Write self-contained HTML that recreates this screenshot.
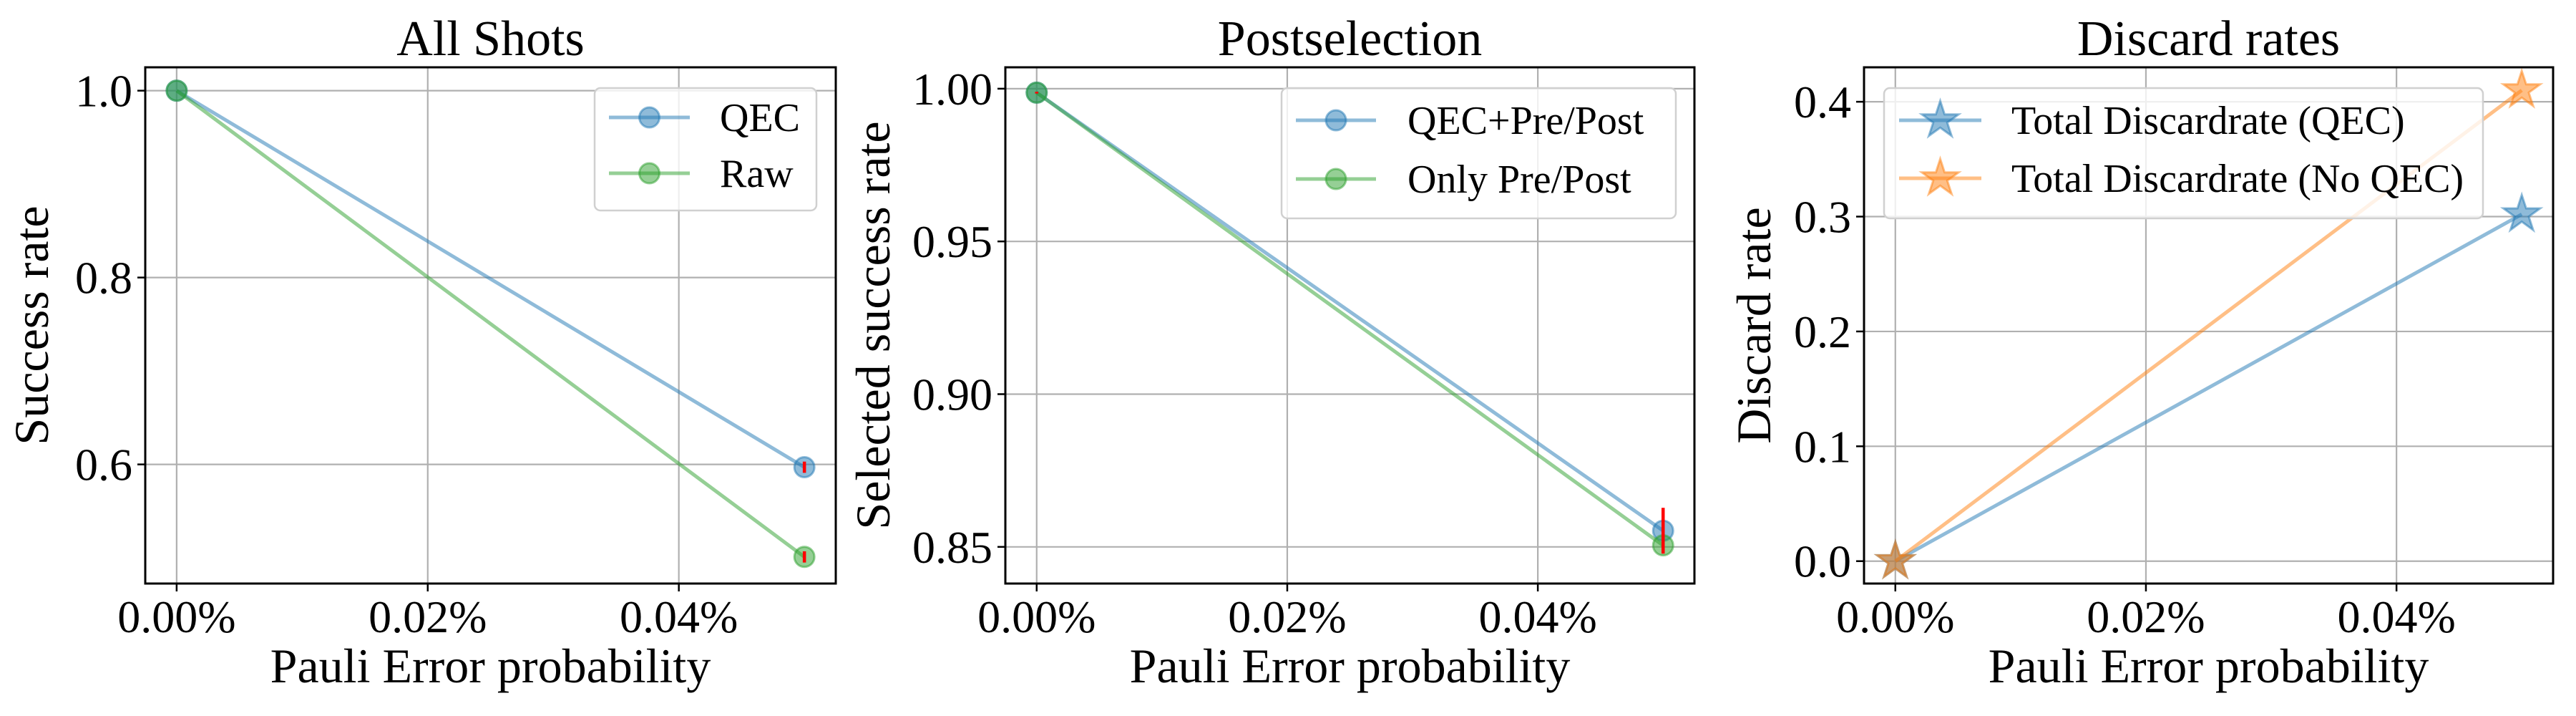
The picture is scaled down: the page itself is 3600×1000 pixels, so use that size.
<!DOCTYPE html>
<html><head><meta charset="utf-8"><style>
html,body{margin:0;padding:0;background:#fff;}
svg{display:block;font-family:"Liberation Serif","DejaVu Serif",serif;}
</style></head><body>
<svg id="fig" width="3600" height="1000" viewBox="0 0 3600 1000" xmlns="http://www.w3.org/2000/svg"></svg>
<script>
// ---- data ----
const xValues = [0, 0.05]; // Pauli error probability in %
const xTicks = [0, 0.02, 0.04];
const xTickLabels = ["0.00%", "0.02%", "0.04%"];

const p1Qec = [1.0, 0.597];
const p1Raw = [1.0, 0.501];
const p1QecErr = [0, 0.006];
const p1RawErr = [0, 0.006];
const p1Ticks = [0.6, 0.8, 1.0];
const p1TickLabels = ["0.6", "0.8", "1.0"];

const p2Qec = [0.9987, 0.8553];
const p2Only = [0.9987, 0.8505];
const p2QecErr = [0.0003, 0.0075];
const p2OnlyErr = [0, 0];
const p2Ticks = [0.85, 0.90, 0.95, 1.00];
const p2TickLabels = ["0.85", "0.90", "0.95", "1.00"];

const p3Qec = [0.0, 0.302];
const p3NoQec = [0.0, 0.410];
const p3Ticks = [0.0, 0.1, 0.2, 0.3, 0.4];
const p3TickLabels = ["0.0", "0.1", "0.2", "0.3", "0.4"];

const NS = "http://www.w3.org/2000/svg";
const svg = document.getElementById("fig");
function mk(tag, attrs, parent) {
  const e = document.createElementNS(NS, tag);
  for (const k in attrs) e.setAttribute(k, attrs[k]);
  (parent || svg).appendChild(e);
  return e;
}
const BLUE = "#1f77b4", GREEN = "#2ca02c", ORANGE = "#ff7f0e";
const MR = 14;

function starPts(cx, cy, R) {
  const r = R * 0.382; let p = [];
  for (let i = 0; i < 10; i++) {
    const a = -Math.PI / 2 + i * Math.PI / 5;
    const rr = i % 2 ? r : R;
    p.push((cx + rr * Math.cos(a)).toFixed(1) + "," + (cy + rr * Math.sin(a)).toFixed(1));
  }
  return p.join(" ");
}

function panel(cfg) {
  const g = mk("g", {});
  
  
  const L = cfg.left, R = cfg.right, T = 94, B = 815;
  const xs = v => L + (v - cfg.xmin) / (cfg.xmax - cfg.xmin) * (R - L);
  const ys = v => B - (v - cfg.ymin) / (cfg.ymax - cfg.ymin) * (B - T);
  xTicks.forEach((t, i) => {
    const x = xs(t);
    const gl = mk("line", {x1: x, x2: x, y1: T, y2: B, stroke: "#b0b0b0", "stroke-width": 2.2}, g);
    
    
    mk("line", {x1: x, x2: x, y1: B, y2: B + 11, stroke: "#000", "stroke-width": 2.5}, g);
    const tl = mk("text", {x: x, y: 883, "font-size": 64, "text-anchor": "middle"}, g);
    tl.textContent = xTickLabels[i];
    
    
  });
  cfg.yTicks.forEach((t, i) => {
    const y = ys(t);
    const gl = mk("line", {x1: L, x2: R, y1: y, y2: y, stroke: "#b0b0b0", "stroke-width": 2.2}, g);
    
    
    mk("line", {x1: L - 11, x2: L, y1: y, y2: y, stroke: "#000", "stroke-width": 2.5}, g);
    const tl = mk("text", {x: L - 18, y: y + 22, "font-size": 64, "text-anchor": "end"}, g);
    tl.textContent = cfg.yTickLabels[i];
    
    
  });
  cfg.series.forEach(s => {
    const pts = xValues.map((x, i) => xs(x).toFixed(1) + "," + ys(s.vals[i]).toFixed(1)).join(" ");
    const ln = mk("polyline", {points: pts, fill: "none", stroke: s.color, "stroke-width": 5, "stroke-opacity": 0.5}, g);
    
    
    xValues.forEach((x, i) => {
      const cx = xs(x), cy = ys(s.vals[i]);
      let m;
      if (s.marker === "star") {
        m = mk("polygon", {points: starPts(cx, cy, 27), fill: s.color, "fill-opacity": 0.5, stroke: s.color, "stroke-opacity": 0.5, "stroke-width": 3}, g);
      } else {
        m = mk("circle", {cx: cx, cy: cy, r: MR, fill: s.color, "fill-opacity": 0.5, stroke: s.color, "stroke-opacity": 0.5, "stroke-width": 3}, g);
      }
      
      
    });
  });
  cfg.series.forEach(s => {
    if (!s.err) return;
    xValues.forEach((x, i) => {
      const e = s.err[i]; if (!e) return;
      const cx = xs(x);
      const eb = mk("line", {x1: cx, x2: cx, y1: ys(s.vals[i] + e), y2: ys(s.vals[i] - e), stroke: "#ff0000", "stroke-width": 4.5}, g);
      
      
    });
  });
  const fr = mk("rect", {x: L, y: T, width: R - L, height: B - T, fill: "none", stroke: "#000", "stroke-width": 3}, g);
  
  
  const ti = mk("text", {x: (L + R) / 2, y: 77, "font-size": 70, "text-anchor": "middle"}, g);
  ti.textContent = cfg.title;
  
  
  const xl = mk("text", {x: (L + R) / 2, y: 953, "font-size": 68, "text-anchor": "middle"}, g);
  xl.textContent = "Pauli Error probability";
  
  
  const yc = (T + B) / 2;
  const yl = mk("text", {x: cfg.ylabelX, y: yc, "font-size": 68, "text-anchor": "middle", transform: `rotate(-90 ${cfg.ylabelX} ${yc})`}, g);
  yl.textContent = cfg.ylabel;
  
  
  const lg = cfg.legend;
  const lgG = mk("g", {}, g);
  
  
  mk("rect", {x: lg.x, y: lg.y, width: lg.w, height: lg.h, rx: 8, fill: "#fff", "fill-opacity": 0.8, stroke: "#d0d0d0", "stroke-width": 2.5}, lgG);
  cfg.series.forEach((s, i) => {
    const ry = lg.rows[i];
    const ent = mk("g", {}, lgG);
    
    
    mk("line", {x1: lg.l1, x2: lg.l2, y1: ry, y2: ry, stroke: s.color, "stroke-width": 5, "stroke-opacity": 0.5}, ent);
    const mx = (lg.l1 + lg.l2) / 2;
    if (s.marker === "star") mk("polygon", {points: starPts(mx, ry, 27), fill: s.color, "fill-opacity": 0.5, stroke: s.color, "stroke-opacity": 0.5, "stroke-width": 3}, ent);
    else mk("circle", {cx: mx, cy: ry, r: MR, fill: s.color, "fill-opacity": 0.5, stroke: s.color, "stroke-opacity": 0.5, "stroke-width": 3}, ent);
    const t = mk("text", {x: lg.tx, y: ry + 19, "font-size": 56}, ent);
    t.textContent = s.label;
  });
}

panel({name: "all-shots-panel", left: 203, right: 1168, xmin: -0.0025, xmax: 0.0525,
  ymin: 0.4725, ymax: 1.025, yTicks: p1Ticks, yTickLabels: p1TickLabels,
  title: "All Shots", ylabel: "Success rate", ylabelX: 67,
  series: [
    {key: "qec", label: "QEC", color: BLUE, vals: p1Qec, err: p1QecErr},
    {key: "raw", label: "Raw", color: GREEN, vals: p1Raw, err: p1RawErr}],
  legend: {x: 831, y: 123, w: 310, h: 171, l1: 851, l2: 964, tx: 1006, rows: [164, 242]}});

panel({name: "postselection-panel", left: 1405, right: 2368, xmin: -0.0025, xmax: 0.0525,
  ymin: 0.838, ymax: 1.007, yTicks: p2Ticks, yTickLabels: p2TickLabels,
  title: "Postselection", ylabel: "Selected success rate", ylabelX: 1243,
  series: [
    {key: "qec-pre-post", label: "QEC+Pre/Post", color: BLUE, vals: p2Qec, err: p2QecErr},
    {key: "only-pre-post", label: "Only Pre/Post", color: GREEN, vals: p2Only, err: p2OnlyErr}],
  legend: {x: 1791, y: 123, w: 551, h: 182, l1: 1811, l2: 1923, tx: 1967, rows: [168, 250]}});

panel({name: "discard-rates-panel", left: 2605, right: 3568, xmin: -0.0025, xmax: 0.0525,
  ymin: -0.0195, ymax: 0.43, yTicks: p3Ticks, yTickLabels: p3TickLabels,
  title: "Discard rates", ylabel: "Discard rate", ylabelX: 2474,
  series: [
    {key: "discard-qec", label: "Total Discardrate (QEC)", color: BLUE, vals: p3Qec, marker: "star"},
    {key: "discard-no-qec", label: "Total Discardrate (No QEC)", color: ORANGE, vals: p3NoQec, marker: "star"}],
  legend: {x: 2633, y: 123, w: 837, h: 182, l1: 2654, l2: 2769, tx: 2811, rows: [168, 249]}});
</script>
</body></html>
